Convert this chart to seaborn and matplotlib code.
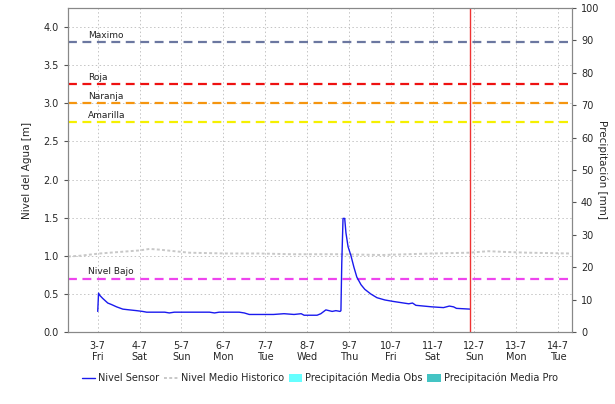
import matplotlib
matplotlib.use("Agg")
import matplotlib.pyplot as plt
import matplotlib.dates as mdates
from matplotlib.lines import Line2D
from matplotlib.patches import Patch
import seaborn as sns
import pandas as pd
import numpy as np

# ---- data ----
sensor_days = [3.00, 3.02, 3.05, 3.12, 3.24, 3.33, 3.45, 3.60, 3.76, 3.93, 4.07, 4.17,
               4.60, 4.71, 4.83, 5.67, 5.79, 5.90, 6.38, 6.50, 6.62, 7.20, 7.45, 7.69,
               7.86, 7.93, 8.24, 8.33, 8.45, 8.60, 8.69, 8.79, 8.81, 8.83, 8.86, 8.90,
               8.93, 8.98, 9.05, 9.12, 9.19, 9.29, 9.38, 9.52, 9.67, 9.86, 10.07, 10.31,
               10.43, 10.52, 10.60, 10.79, 10.98, 11.26, 11.40, 11.50, 11.57, 11.90]
sensor_vals = [0.27, 0.51, 0.48, 0.44, 0.38, 0.36, 0.33, 0.30, 0.29, 0.28, 0.27, 0.26,
               0.26, 0.25, 0.26, 0.26, 0.25, 0.26, 0.26, 0.25, 0.23, 0.23, 0.24, 0.23,
               0.24, 0.22, 0.22, 0.24, 0.29, 0.27, 0.28, 0.27, 0.28, 0.90, 1.49, 1.49,
               1.30, 1.12, 1.00, 0.85, 0.72, 0.62, 0.56, 0.50, 0.45, 0.42, 0.40, 0.38,
               0.37, 0.38, 0.35, 0.34, 0.33, 0.32, 0.34, 0.33, 0.31, 0.30]

hist_days = [2.29, 2.57, 3.05, 3.52, 4.00, 4.24, 4.48, 4.83, 5.19, 6.07, 6.86, 7.64,
             8.76, 9.79, 10.98, 11.86, 12.33, 12.74, 13.29, 14.29]
hist_vals = [0.99, 1.00, 1.03, 1.05, 1.07, 1.09, 1.08, 1.06, 1.04, 1.03, 1.03, 1.02,
             1.02, 1.01, 1.03, 1.04, 1.06, 1.05, 1.04, 1.03]

threshold_names = ["Maximo", "Roja", "Naranja", "Amarilla", "Nivel Bajo"]
threshold_vals = [3.80, 3.25, 3.00, 2.75, 0.70]
threshold_cols = ["#6b77a0", "#ee1111", "#f5950f", "#f5f000", "#ee44ee"]

now_day = 11.90
tick_days = list(range(3, 15))
tick_weekdays = ["Fri", "Sat", "Sun", "Mon", "Tue", "Wed", "Thu", "Fri", "Sat", "Sun", "Mon", "Tue"]

base = pd.Timestamp("2020-07-01")
def to_dt(d):
    return base + pd.to_timedelta(d - 1, unit="D")

sensor_df = pd.DataFrame({"t": [to_dt(d) for d in sensor_days], "v": sensor_vals})
hist_df = pd.DataFrame({"t": [to_dt(d) for d in hist_days], "v": hist_vals})

sns.set_style("white")
plt.rcParams["font.family"] = ["DejaVu Sans"]
plt.rcParams["font.size"] = 7

fig = plt.figure(figsize=(6.15, 4.04), dpi=100)
ax = fig.add_axes([68/615, 1-332/404, (572-68)/615, (332-8)/404])

# grid
ax.grid(True, color="#c4c4c4", linestyle=(0, (1.5, 2.5)), linewidth=0.7)
ax.set_axisbelow(True)

sns.lineplot(data=hist_df, x="t", y="v", ax=ax, color="#c8c8c8",
             linestyle=(0, (1.5, 1.2)), linewidth=1.4, legend=False)

for name, val, col in zip(threshold_names, threshold_vals, threshold_cols):
    ax.axhline(val, color=col, linestyle=(0, (4, 2.5)), linewidth=1.6, zorder=3)
    ax.text(to_dt(2.76), val + 0.03, name, fontsize=6.5, color="#222222",
            ha="left", va="bottom", zorder=4)

sns.lineplot(data=sensor_df, x="t", y="v", ax=ax, color="#1a1aee",
             linewidth=1.0, legend=False, zorder=5)

ax.axvline(to_dt(now_day), color="#ee3333", linewidth=1.0, zorder=6)

ax.set_xlim(to_dt(2.29), to_dt(14.33))
ax.set_ylim(0, 4.25)
ax.set_yticks(np.arange(0, 4.01, 0.5))
ax.set_yticklabels([f"{v:.1f}" for v in np.arange(0, 4.01, 0.5)])
ax.set_xticks([to_dt(d) for d in tick_days])
ax.set_xticklabels([f"{d}-7\n{w}" for d, w in zip(tick_days, tick_weekdays)],
                   fontsize=7, linespacing=1.15)
ax.xaxis.set_minor_locator(mdates.HourLocator(byhour=range(0, 24, 2)))
ax.tick_params(axis="x", which="minor", length=2, color="#555555")
ax.tick_params(axis="both", which="major", length=3, color="#555555", labelsize=7)
ax.set_xlabel("")
ax.set_ylabel("Nivel del Agua [m]", fontsize=7.5, labelpad=8)

for s in ax.spines.values():
    s.set_color("#888888")

ax2 = ax.twinx()
ax2.set_ylim(0, 100)
ax2.set_yticks(range(0, 101, 10))
ax2.tick_params(axis="y", length=3, color="#555555", labelsize=7)
ax2.set_ylabel("Precipitación [mm]", rotation=270, labelpad=6, fontsize=7.5)
for s in ax2.spines.values():
    s.set_color("#888888")

handles = [
    Line2D([], [], color="#1a1aee", linewidth=1.0),
    Line2D([], [], color="#c8c8c8", linestyle=(0, (1.5, 1.2)), linewidth=1.4),
    Patch(facecolor="#66ffff", edgecolor="none"),
    Patch(facecolor="#44c4c4", edgecolor="none"),
]
labels = ["Nivel Sensor", "Nivel Medio Historico", "Precipitación Media Obs",
          "Precipitación Media Pro"]
fig.legend(handles, labels, loc="center", bbox_to_anchor=(0.52, 1-378/404), ncol=4,
           frameon=False, fontsize=7, handlelength=1.4, handletextpad=0.3,
           columnspacing=0.5, handleheight=0.9)

fig.savefig("out.png", dpi=100)
